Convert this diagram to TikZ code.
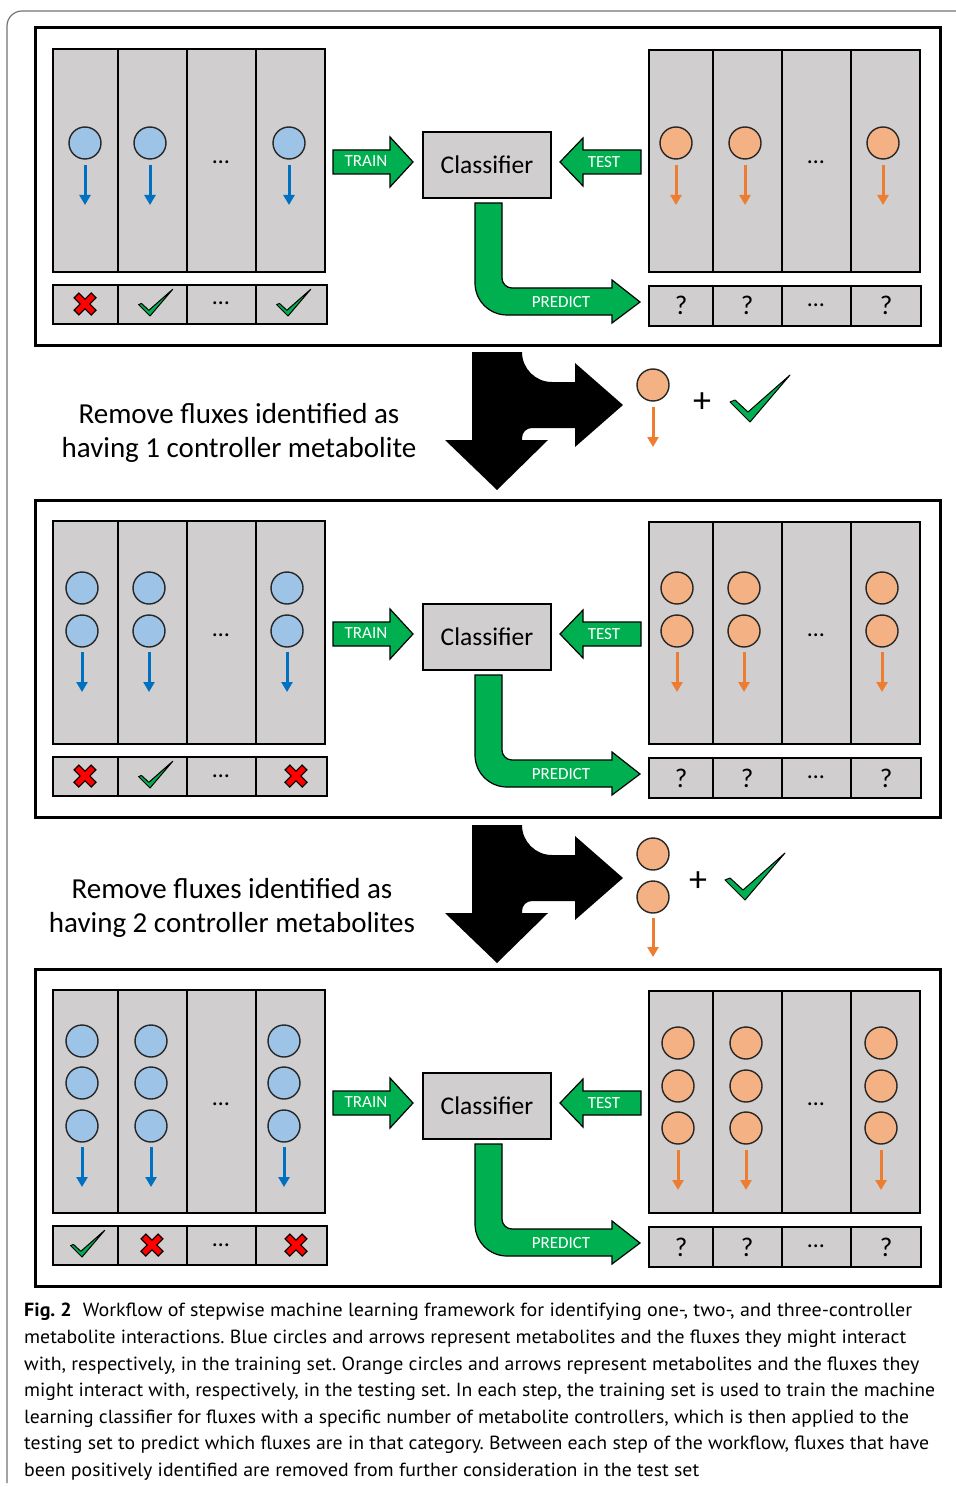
\documentclass[tikz,border=0pt]{standalone}
\usepackage{fontspec}
\usepackage{graphicx}
\setmainfont{Carlito}
\newfontfamily\capfont{PT Sans}
\frenchspacing
\usetikzlibrary{arrows.meta}
\definecolor{gfill}{HTML}{D0CECE}
\definecolor{bluefill}{HTML}{9DC3E6}
\definecolor{bluearrow}{HTML}{0070C0}
\definecolor{orfill}{HTML}{F4B183}
\definecolor{orarrow}{HTML}{ED7D31}
\definecolor{grn}{HTML}{00B050}
\tikzset{
 frame/.style={draw=black, line width=3pt},
 block/.style={fill=gfill, draw=black, line width=2pt},
 bline/.style={draw=black, line width=2pt},
 bcirc/.style={circle, fill=bluefill, draw=black!85, line width=1.4pt, minimum size=32pt, inner sep=0pt},
 ocirc/.style={circle, fill=orfill, draw=black!85, line width=1.4pt, minimum size=32pt, inner sep=0pt},
 barr/.style={draw=bluearrow, line width=3pt, -{Triangle[width=11pt,length=10pt]}},
 oarr/.style={draw=orarrow, line width=3pt, -{Triangle[width=11pt,length=10pt]}},
 garrow/.style={fill=grn, draw=black, line width=1.2pt},
 gtext/.style={text=white, font=\fontsize{17}{17}\selectfont, inner sep=0pt},
 dots/.style={font=\fontsize{24}{24}\selectfont, anchor=base, inner sep=0pt},
 qm/.style={font=\fontsize{27}{27}\selectfont, anchor=base, inner sep=0pt},
 clsbox/.style={fill=gfill, draw=black, line width=2pt, minimum width=128pt, minimum height=66pt, inner sep=0pt, font=\fontsize{25.5}{25.5}\selectfont},
 chk/.style={fill=grn, draw=black, line width=1pt, line join=round},
 xblack/.style={draw=black, line width=8pt},
 xred/.style={draw=red, line width=5.5pt},
 rmtext/.style={font=\fontsize{29}{34}\selectfont, anchor=base, inner sep=0pt},
 captext/.style={anchor=base west, inner sep=0pt},
}
\newcommand\chkmark[3]{\draw[chk, shift={(#1,#2)}, scale=#3] (0,0) -- (-20,-20) -- (-15,-22) -- (-2,-10) -- (40,-47) -- cycle;}
\newcommand\xmark[2]{%
 \draw[xblack] (#1,#2) +(-9,-9) -- +(9,9) +(-9,9) -- +(9,-9);
 \draw[xred] (#1,#2) +(-8,-8) -- +(8,8) +(-8,8) -- +(8,-8);}
\newcommand\metab[6]{%
 \foreach \yy [count=\k] in {#3} \node[#6circ] (m#1-#2-\k) at (#2,\yy) {};
 \draw[#6arr] (#2,#4) -- (#2,#5);}
\newcommand\panelbase[1]{%
 \draw[frame] (35,28) rectangle (940,345);
 \draw[block] (53,49) rectangle (325,272);
 \foreach \x in {118,187,256} \draw[bline] (\x,49) -- (\x,272);
 \draw[block] (53,285) rectangle (327,324);
 \foreach \x in {118,187,256} \draw[bline] (\x,285) -- (\x,324);
 \draw[block] (649,50) rectangle (920,272);
 \foreach \x in {713,782,851} \draw[bline] (\x,50) -- (\x,272);
 \draw[block] (649,286) rectangle (921,326);
 \foreach \x in {713,782,851} \draw[bline] (\x,286) -- (\x,326);
 \node[dots] (dl#1) at (221,164) {…};
 \node[dots] (dr#1) at (816,164) {…};
 \node[dots] (dbl#1) at (221,305) {…};
 \node[dots] (dbr#1) at (816,306) {…};
 \node[qm] (qa#1) at (681,315) {?};
 \node[qm] (qb#1) at (747,315) {?};
 \node[qm] (qc#1) at (886,315) {?};
 \node[clsbox] (cls#1) at (487,165) {Classifier};
 \draw[garrow] (333,150) -- (390,150) -- (390,137) -- (413,162) -- (390,187) -- (390,174) -- (333,174) -- cycle;
 \node[gtext] (train#1) at (366,161) {TRAIN};
 \draw[garrow] (641,150) -- (583,150) -- (583,138) -- (560,162) -- (583,186) -- (583,174) -- (641,174) -- cycle;
 \node[gtext] (test#1) at (604,162) {TEST};
 \draw[garrow] (475,203) -- (502,203) -- (502,278) arc[start angle=180,end angle=90,radius=10] -- (612,288) -- (612,280) -- (640,302) -- (612,323) -- (612,315) -- (507,315) arc[start angle=90,end angle=180,radius=32] -- cycle;
 \node[gtext] (pred#1) at (561,302) {PREDICT};
}
\newcommand\splitarrow{%
 \fill[black] (472,352) -- (522,352) arc[start angle=180,end angle=90,radius=30] -- (575,382) -- (575,363) -- (623,405) -- (575,447) -- (575,428) -- (532,428) arc[start angle=270,end angle=180,radius=10] -- (522,440) -- (548,440) -- (497,490) -- (445,440) -- (472,440) -- cycle;}
\begin{document}
\begin{tikzpicture}[x=1pt,y=-1pt]
\useasboundingbox (0,0) rectangle (955,1487);
\fill[white] (0,0) rectangle (955,1487);
% outer frame
\draw[black!55, line width=1.2pt] (7,1483) -- (7,26) arc[start angle=180,end angle=270,radius=15] -- (956,11);
% panel 1
\begin{scope}
 \panelbase{1}
 \metab{1}{85}{143}{165}{205}{b}
 \metab{1}{150}{143}{165}{205}{b}
 \metab{1}{289}{143}{165}{205}{b}
 \metab{1}{676}{143}{165}{205}{o}
 \metab{1}{745}{143}{165}{205}{o}
 \metab{1}{883}{143}{165}{205}{o}
 \xmark{85}{304}
 \chkmark{150}{316}{0.57}
 \chkmark{288}{316}{0.57}
\end{scope}
% gap 1
\splitarrow
\node[ocirc] (g1c1) at (653,385) {};
\draw[oarr] (653,407) -- (653,447);
\node[font=\fontsize{36}{36}\selectfont, inner sep=0pt] (g1plus) at (702,403) {+};
\chkmark{750}{422}{1}
\node[rmtext] (rm1a) at (239,423) {Remove fluxes identified as};
\node[rmtext] (rm1b) at (239,457) {having 1 controller metabolite};
% panel 2
\begin{scope}[yshift=-472pt]
 \panelbase{2}
 \metab{2}{82}{116,159}{180}{220}{b}
 \metab{2}{149}{116,159}{180}{220}{b}
 \metab{2}{287}{116,159}{180}{220}{b}
 \metab{2}{677}{116,159}{180}{220}{o}
 \metab{2}{744}{116,159}{180}{220}{o}
 \metab{2}{882}{116,159}{180}{220}{o}
 \xmark{85}{304}
 \chkmark{150}{316}{0.57}
 \xmark{296}{304}
\end{scope}
% gap 2
\begin{scope}[yshift=-473pt]
 \splitarrow
\end{scope}
\node[ocirc] (g2c1) at (653,854) {};
\node[ocirc] (g2c2) at (653,897) {};
\draw[oarr] (653,918) -- (653,957);
\node[font=\fontsize{36}{36}\selectfont, inner sep=0pt] (g2plus) at (698,882) {+};
\chkmark{745}{900}{1}
\node[rmtext] (rm2a) at (232,898) {Remove fluxes identified as};
\node[rmtext] (rm2b) at (232,932) {having 2 controller metabolites};
% panel 3
\begin{scope}[yshift=-941pt]
 \panelbase{3}
 \metab{3}{82}{100,142,185}{206}{246}{b}
 \metab{3}{151}{100,142,185}{206}{246}{b}
 \metab{3}{284}{100,142,185}{206}{246}{b}
 \metab{3}{678}{102,145,187}{209}{249}{o}
 \metab{3}{746}{102,145,187}{209}{249}{o}
 \metab{3}{881}{102,145,187}{209}{249}{o}
 \chkmark{82}{316}{0.57}
 \xmark{152}{304}
 \xmark{296}{304}
\end{scope}
% caption
\node[captext] (cap1) at (24,1316) {\resizebox{888pt}{\height}{\capfont\fontsize{19}{19}\selectfont\textbf{Fig. 2}\hspace{0.55em}Workflow of stepwise machine learning framework for identifying one-, two-, and three-controller}};
\node[captext] (cap2) at (24,1343) {\resizebox{882pt}{\height}{\capfont\fontsize{19}{19}\selectfont metabolite interactions. Blue circles and arrows represent metabolites and the fluxes they might interact}};
\node[captext] (cap3) at (24,1370) {\resizebox{895pt}{\height}{\capfont\fontsize{19}{19}\selectfont with, respectively, in the training set. Orange circles and arrows represent metabolites and the fluxes they}};
\node[captext] (cap4) at (24,1396) {\resizebox{911pt}{\height}{\capfont\fontsize{19}{19}\selectfont might interact with, respectively, in the testing set. In each step, the training set is used to train the machine}};
\node[captext] (cap5) at (24,1423) {\resizebox{885pt}{\height}{\capfont\fontsize{19}{19}\selectfont learning classifier for fluxes with a specific number of metabolite controllers, which is then applied to the}};
\node[captext] (cap6) at (24,1449) {\resizebox{905pt}{\height}{\capfont\fontsize{19}{19}\selectfont testing set to predict which fluxes are in that category. Between each step of the workflow, fluxes that have}};
\node[captext] (cap7) at (24,1476) {\resizebox{675pt}{\height}{\capfont\fontsize{19}{19}\selectfont been positively identified are removed from further consideration in the test set}};
\end{tikzpicture}
\end{document}
